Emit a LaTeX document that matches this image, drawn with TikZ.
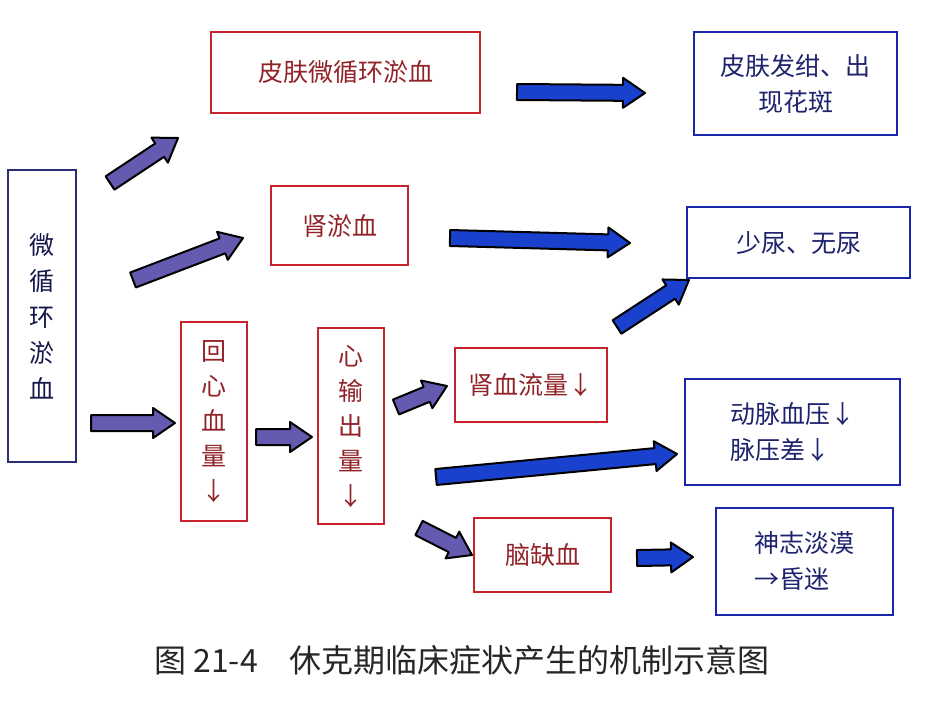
\documentclass[tikz,border=0pt]{standalone}
\usepackage{fontspec}
\usepackage{xcolor}
\usepackage{tikz}
\usetikzlibrary{calc}
\newfontfamily\cjk{Noto Sans CJK SC}
\definecolor{boxred}{RGB}{200,35,45}
\definecolor{textred}{RGB}{145,35,40}
\definecolor{boxblue}{RGB}{25,40,170}
\definecolor{textblue}{RGB}{30,35,110}
\definecolor{boxnavy}{RGB}{45,45,115}
\definecolor{arrowpurple}{RGB}{100,90,175}
\definecolor{arrowblue}{RGB}{25,65,205}

% fat arrow: tail, tip, fill colour
\newcommand{\fatarrow}[3]{%
  \filldraw[fill=#3, draw=black, line width=1pt, line join=round]
    ($(#1)!4pt!90:(#2)$) -- ($(#2)!11pt!(#1)!4pt!-90:(#1)$)
    -- ($(#2)!11pt!(#1)!7.5pt!-90:(#1)$) -- (#2)
    -- ($(#2)!11pt!(#1)!7.5pt!90:(#1)$) -- ($(#2)!11pt!(#1)!4pt!90:(#1)$)
    -- ($(#1)!4pt!-90:(#2)$) -- cycle;
}

\begin{document}
\begin{tikzpicture}[x=0.5pt, y=-0.5pt,
  redbox/.style={draw=boxred, line width=1.2pt, text=textred, align=center, inner sep=0pt,
    font=\cjk\fontsize{12.5}{17.5}\selectfont},
  bluebox/.style={draw=boxblue, line width=1.2pt, text=textblue, inner sep=0pt,
    font=\cjk\fontsize{12.5}{18}\selectfont}]
\useasboundingbox[fill=white] (0,0) rectangle (951,700);

% left column
\node[draw=boxnavy, line width=1.2pt, text=textblue!70!black, align=center, inner sep=0pt,
  font=\cjk\fontsize{12.5}{18}\selectfont, minimum width=34pt, minimum height=146pt]
  (micro-stasis) at (42,316) {微\\循\\环\\淤\\血};

% red boxes
\node[redbox, minimum width=134.5pt, minimum height=40.5pt] (skin-stasis) at (345.5,72.5) {皮肤微循环淤血};
\node[redbox, minimum width=68.5pt, minimum height=39.5pt] (kidney-stasis) at (339.5,225.5) {肾淤血};
\node[redbox, minimum width=33pt, minimum height=99.5pt] (venous-return) at (214,421.5) {回\\心\\血\\量\\↓};
\node[redbox, minimum width=33pt, minimum height=98pt] (cardiac-output) at (351,426) {心\\输\\出\\量\\↓};
\node[redbox, minimum width=76pt, minimum height=37pt] (renal-flow) at (531,385) {肾血流量↓};
\node[redbox, minimum width=68.5pt, minimum height=37pt] (brain-ischemia) at (542.5,555) {脑缺血};

% blue boxes
\node[bluebox, align=center, minimum width=101.5pt, minimum height=51.5pt] (cyanosis) at (795.5,83.5) {皮肤发绀、出\\现花斑};
\node[bluebox, align=center, minimum width=111.5pt, minimum height=35.5pt] (oliguria) at (798.5,242.5) {少尿、无尿};
\node[bluebox, align=left, minimum width=107.5pt, minimum height=53pt] (pressure) at (792.5,432) {动脉血压↓\\脉压差↓};
\node[bluebox, align=left, minimum width=88.5pt, minimum height=53.5pt] (coma) at (804.5,561.5) {神志淡漠\\→昏迷};

% arrow ends
\coordinate (a1-tail) at (110,183);  \coordinate (a1-tip) at (178,138);
\coordinate (a2-tail) at (133,280);  \coordinate (a2-tip) at (243,238);
\coordinate (a3-tail) at (91,423);   \coordinate (a3-tip) at (175,423);
\coordinate (a4-tail) at (256,437);  \coordinate (a4-tip) at (312,437);
\coordinate (a5-tail) at (396,407);  \coordinate (a5-tip) at (447,386);
\coordinate (a6-tail) at (419,528);  \coordinate (a6-tip) at (472,555);
\coordinate (b1-tail) at (517,92);   \coordinate (b1-tip) at (645,93);
\coordinate (b2-tail) at (450,238);  \coordinate (b2-tip) at (630,243);
\coordinate (b3-tail) at (617,327);  \coordinate (b3-tip) at (689,280);
\coordinate (b4-tail) at (436,477);  \coordinate (b4-tip) at (677,454);
\coordinate (b5-tail) at (637,558);  \coordinate (b5-tip) at (693,557);

% purple arrows
\fatarrow{a1-tail}{a1-tip}{arrowpurple}
\fatarrow{a2-tail}{a2-tip}{arrowpurple}
\fatarrow{a3-tail}{a3-tip}{arrowpurple}
\fatarrow{a4-tail}{a4-tip}{arrowpurple}
\fatarrow{a5-tail}{a5-tip}{arrowpurple}
\fatarrow{a6-tail}{a6-tip}{arrowpurple}

% blue arrows
\fatarrow{b1-tail}{b1-tip}{arrowblue}
\fatarrow{b2-tail}{b2-tip}{arrowblue}
\fatarrow{b3-tail}{b3-tip}{arrowblue}
\fatarrow{b4-tail}{b4-tip}{arrowblue}
\fatarrow{b5-tail}{b5-tip}{arrowblue}

% caption
\node[font=\cjk\fontsize{16}{18}\selectfont, text=black!85] (caption) at (462,660)
  {图 21-4\quad 休克期临床症状产生的机制示意图};

\end{tikzpicture}
\end{document}
